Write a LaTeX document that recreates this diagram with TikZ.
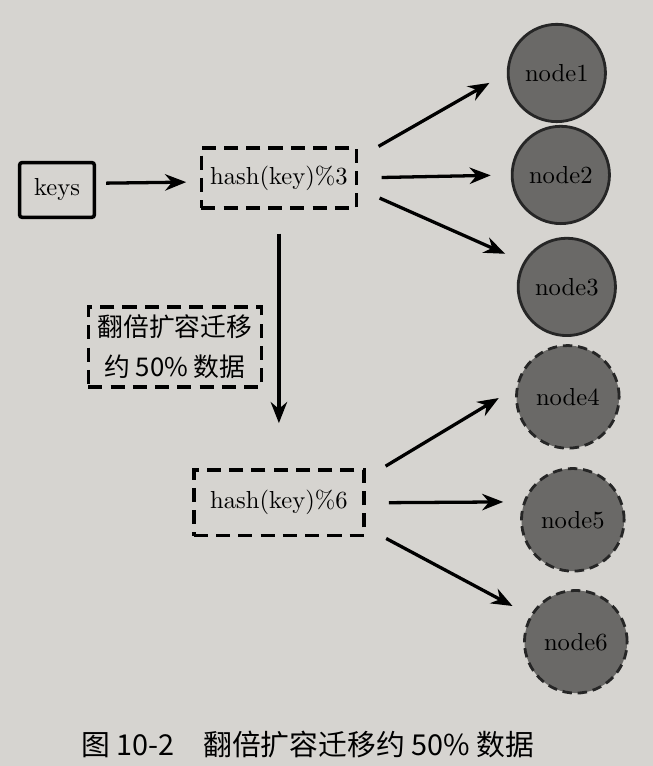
\documentclass[tikz,border=0pt]{standalone}
\usepackage{fontspec}
\newfontfamily\cjk{Noto Sans CJK SC}
\usetikzlibrary{arrows.meta}
\definecolor{paper}{RGB}{214,212,208}
\definecolor{nodegray}{RGB}{106,105,103}
\definecolor{inkline}{RGB}{38,38,38}

\begin{document}
\begin{tikzpicture}
  [x=0.015cm,y=-0.015cm,
   every node/.style={font=\fontsize{10.5}{13}\selectfont},
   box/.style={draw=black,line width=1.5pt,inner sep=0pt},
   dashbox/.style={box,dash pattern=on 6pt off 3.5pt},
   server/.style={circle,draw=inkline,line width=1.2pt,fill=nodegray,
     minimum size=1.46cm,inner sep=0pt},
   dserver/.style={server,minimum size=1.54cm,dash pattern=on 4pt off 2.5pt},
   link/.style={-{Stealth[length=9pt,width=7pt]},line width=1.4pt,
     shorten <=0.35cm,shorten >=0.3cm}]

  \fill[paper] (0,0) rectangle (653,766);

  % input and the two hash functions
  \node[box,rounded corners=1pt,minimum width=1.12cm,minimum height=0.82cm]
    (keys) at (57,190) {keys};
  \node[dashbox,minimum width=2.33cm,minimum height=0.9cm]
    (hash3) at (279,178) {hash(key)\%3};
  \node[dashbox,minimum width=2.55cm,minimum height=0.98cm]
    (hash6) at (279,503) {hash(key)\%6};
  \node[dashbox,minimum width=2.6cm,minimum height=1.2cm,align=center,
    font=\cjk\fontsize{11}{17}\selectfont]
    (note) at (175,347) {翻倍扩容迁移\\约 50\% 数据};

  % nodes before and after
  \node[server] (n1) at (557,73)  {node1};
  \node[server] (n2) at (561,175) {node2};
  \node[server] (n3) at (567,287) {node3};
  \node[dserver] (n4) at (568,397) {node4};
  \node[dserver] (n5) at (573,520) {node5};
  \node[dserver] (n6) at (576,642) {node6};

  \draw[link,shorten <=0.15cm,shorten >=0.2cm]
    ([yshift=0.1cm]keys.east) -- ([yshift=-0.06cm]hash3.west);
  \draw[link,shorten <=0.36cm,shorten >=0.68cm] (hash3) -- (hash6);

  \draw[link] ([yshift=0.3cm]hash3.east) -- (n1.west);
  \draw[link] (hash3.east) -- (n2.west);
  \draw[link] ([yshift=-0.16cm]hash3.east) -- (n3.150);
  \draw[link] ([yshift=0.37cm]hash6.east) -- (n4.170);
  \draw[link] (hash6.east) -- (n5.160);
  \draw[link] ([yshift=-0.37cm]hash6.east) -- (n6.150);

  \node[font=\cjk\fontsize{12.3}{15}\selectfont,anchor=west] (caption) at (73,745)
    {图 10-2\hspace{1em}翻倍扩容迁移约 50\% 数据};
\end{tikzpicture}
\end{document}
